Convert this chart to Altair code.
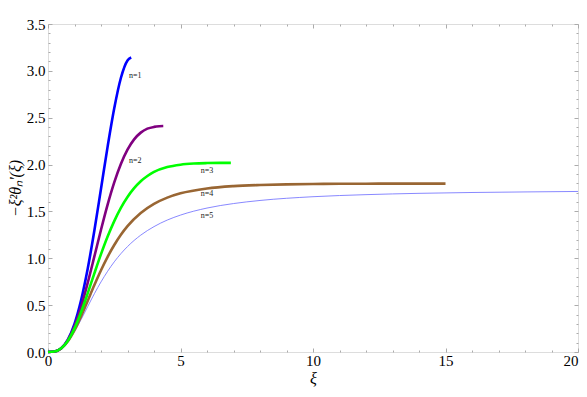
import altair as alt
import pandas as pd

# ---- data ----
xi_n1 = [0, 0.25, 0.5, 0.75, 1, 1.25, 1.5, 1.75, 2, 2.25, 2.5, 2.75, 3, 3.14]
v_n1 = [0, 0.005, 0.041, 0.133, 0.301, 0.555, 0.891, 1.296, 1.742, 2.192, 2.601, 2.924, 3.111, 3.142]

xi_n2 = [0, 0.25, 0.5, 0.75, 1, 1.25, 1.5, 1.75, 2, 2.25, 2.5, 2.75, 3, 3.25, 3.5, 3.75, 4, 4.2, 4.35]
v_n2 = [0, 0.005, 0.040, 0.126, 0.275, 0.482, 0.740, 1.020, 1.304, 1.572, 1.809, 2.006, 2.159, 2.269,
        2.341, 2.383, 2.402, 2.409, 2.411]

xi_n3 = [0, 0.25, 0.5, 0.75, 1, 1.25, 1.5, 1.75, 2, 2.25, 2.5, 2.75, 3, 3.25, 3.5, 3.75, 4, 4.5, 5,
         5.5, 6, 6.5, 6.9]
v_n3 = [0, 0.005, 0.039, 0.120, 0.252, 0.427, 0.628, 0.839, 1.044, 1.232, 1.397, 1.538, 1.654, 1.748,
        1.822, 1.878, 1.921, 1.973, 1.999, 2.011, 2.016, 2.018, 2.018]

xi_n4 = [0, 0.25, 0.5, 0.75, 1, 1.25, 1.5, 1.75, 2, 2.25, 2.5, 2.75, 3, 3.5, 4, 4.5, 5, 6, 7, 8, 9,
         10, 11, 12, 13, 15]
v_n4 = [0, 0.005, 0.038, 0.114, 0.233, 0.382, 0.548, 0.715, 0.873, 1.016, 1.142, 1.251, 1.343, 1.483,
        1.580, 1.647, 1.693, 1.745, 1.770, 1.782, 1.789, 1.793, 1.795, 1.796, 1.797, 1.797]

xi_n5 = [0, 0.25, 0.5, 0.75, 1, 1.25, 1.5, 1.75, 2, 2.5, 3, 3.5, 4, 4.5, 5, 6, 7, 8, 10, 12, 14, 16,
         18, 20]
v_n5 = [0, 0.005, 0.037, 0.109, 0.217, 0.347, 0.486, 0.622, 0.748, 0.962, 1.125, 1.247, 1.338, 1.408,
        1.461, 1.536, 1.584, 1.617, 1.657, 1.679, 1.693, 1.702, 1.708, 1.713]

label_text = ["n=1", "n=2", "n=3", "n=4", "n=5"]
label_xi = [3.06, 3.06, 5.76, 5.76, 5.76]
label_v = [2.95, 2.035, 1.93, 1.69, 1.45]

x_major = [0, 5, 10, 15, 20]
x_minor = [i for i in range(0, 21) if i % 5 != 0]
y_major = [0.0, 0.5, 1.0, 1.5, 2.0, 2.5, 3.0, 3.5]
y_minor = [round(i * 0.1, 1) for i in range(0, 36) if i % 5 != 0]

# ---- styling ----
SERIF = "Liberation Serif"
FRAME = "#ababab"
XS = alt.Scale(domain=[0, 20], nice=False, zero=False)
YS = alt.Scale(domain=[0, 3.5], nice=False, zero=False)

df5 = pd.DataFrame({"xi": xi_n5, "v": v_n5})


def axis_layer(xaxis, yaxis):
    return alt.Chart(df5).mark_point(opacity=0, size=1).encode(
        x=alt.X("xi:Q", scale=XS, axis=xaxis),
        y=alt.Y("v:Q", scale=YS, axis=yaxis),
    )


def tick_axis(orient, values, size):
    return alt.Axis(orient=orient, values=values, tickSize=size, offset=-size, labels=False,
                    domain=False, grid=False, tickColor=FRAME, tickWidth=1, title=None)


lab_x = alt.Axis(orient="bottom", values=x_major, ticks=False, domain=False, grid=False,
                 format="d", labelFont=SERIF, labelFontSize=15, labelColor="black",
                 labelPadding=1, labelFlush=False,
                 labelAlign=alt.condition("datum.value == 20", alt.value("right"), alt.value("center")),
                 title="ξ", titleFont=SERIF, titleFontSize=16,
                 titleFontStyle="italic", titleFontWeight="normal", titleColor="black",
                 titleBaseline="alphabetic", titleY=31)
lab_y = alt.Axis(orient="left", values=y_major, ticks=False, domain=False, grid=False,
                 format=".1f", labelFont=SERIF, labelFontSize=15, labelColor="black",
                 labelPadding=3, labelFlush=False, title="−ξ²θₙ'(ξ)", titleFont=SERIF,
                 titleFontSize=16, titleFontStyle="italic", titleFontWeight="normal",
                 titleColor="black", titlePadding=3)

layers = [
    axis_layer(lab_x, lab_y),
    axis_layer(tick_axis("bottom", x_major, 4), tick_axis("left", y_major, 4)),
    axis_layer(tick_axis("bottom", x_minor, 2), tick_axis("left", y_minor, 2)),
    axis_layer(tick_axis("top", x_major, 4), tick_axis("right", y_major, 4)),
    axis_layer(tick_axis("top", x_minor, 2), tick_axis("right", y_minor, 2)),
]


def line_layer(xs_, vs_, color, width):
    d = pd.DataFrame({"xi": xs_, "v": vs_})
    return alt.Chart(d).mark_line(color=color, strokeWidth=width, interpolate="monotone").encode(
        x=alt.X("xi:Q", scale=XS, axis=None),
        y=alt.Y("v:Q", scale=YS, axis=None),
    )


layers += [
    line_layer(xi_n5, v_n5, "#6a6aff", 0.8),
    line_layer(xi_n4, v_n4, "#996633", 2.6),
    line_layer(xi_n1, v_n1, "#0000ff", 2.6),
    line_layer(xi_n2, v_n2, "#800080", 2.6),
    line_layer(xi_n3, v_n3, "#00ff00", 2.6),
]

labels_df = pd.DataFrame({"xi": label_xi, "v": label_v, "t": label_text})
layers.append(
    alt.Chart(labels_df).mark_text(font=SERIF, fontSize=8, color="#222222", align="left",
                                   baseline="middle").encode(
        x=alt.X("xi:Q", scale=XS, axis=None),
        y=alt.Y("v:Q", scale=YS, axis=None),
        text="t:N",
    )
)

chart = (
    alt.layer(*layers)
    .resolve_axis(x="independent", y="independent")
    .properties(width=530, height=328,
                padding={"left": 40, "top": 16, "right": 1, "bottom": 36},
                autosize=alt.AutoSizeParams(type="none"))
    .configure_view(stroke=FRAME, strokeWidth=1)
    .configure(background="white")
)

chart.save("out.html", embed_options={"renderer": "svg", "actions": False})
